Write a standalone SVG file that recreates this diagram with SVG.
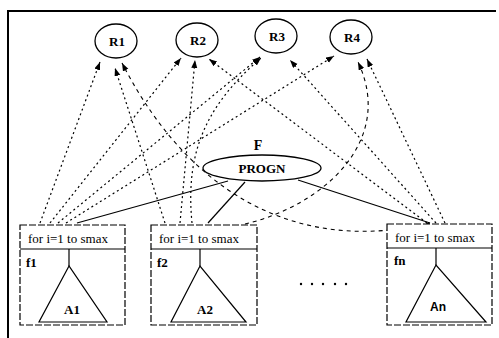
<svg xmlns="http://www.w3.org/2000/svg" width="499" height="338" viewBox="0 0 499 338">
<defs>
<marker id="ah" markerUnits="userSpaceOnUse" markerWidth="9" markerHeight="7" refX="8" refY="3" orient="auto">
<path d="M0,0 L8,3 L0,6 Z" fill="#000"/>
</marker>
<style>
.frame{fill:none;stroke:#000;stroke-width:2}
.res{fill:#fff;stroke:#000;stroke-width:1.3}
.lbl{font-family:"Liberation Serif",serif;font-weight:bold;font-size:13px;text-anchor:middle;fill:#000}
.txt{font-family:"Liberation Serif",serif;font-size:13px;fill:#000}
.box{fill:#fff;stroke:#000;stroke-width:1.2;stroke-dasharray:7,2}
.solid{fill:none;stroke:#000;stroke-width:1.2}
.dot{fill:none;stroke:#000;stroke-width:1.2;stroke-dasharray:2,3;marker-end:url(#ah)}
.dash{fill:none;stroke:#000;stroke-width:1.1;stroke-dasharray:4,4;marker-end:url(#ah)}
</style>
</defs>
<rect width="499" height="338" fill="#fff"/>
<path class="frame" d="M8,338 V11 H496"/>

<g id="connectors">
<!-- from f1 -->
<path class="dot" d="M40,223 L100,62"/>
<path class="dot" d="M50,223 L181,58"/>
<path class="dot" d="M58,223 L260,57"/>
<path class="dot" d="M66,223 L334,56"/>
<!-- from f2 -->
<path class="dot" d="M165,223 L115,68"/>
<path class="dot" d="M180,223 L195,60"/>
<path class="dot" d="M192,223 C186,160 200,110 261,58"/>
<path class="dash" d="M245,224 C325,205 395,140 358,62"/>
<!-- from fn -->
<path class="dash" d="M430,223 C320,250 200,215 122,63"/>
<path class="dot" d="M427,223 L209,59"/>
<path class="dot" d="M436,223 L290,60"/>
<path class="dot" d="M445,223 L367,59"/>
<!-- PROGN to boxes -->
<path class="solid" d="M228,181 L77,223"/>
<path class="solid" d="M245,182 L208,223"/>
<path class="solid" d="M298,180 L430,223"/>
</g>

<g id="R1"><ellipse class="res" cx="116" cy="41" rx="21" ry="17"/><text class="lbl" x="117" y="46">R1</text></g>
<g id="R2"><ellipse class="res" cx="197" cy="40" rx="21" ry="17"/><text class="lbl" x="198" y="45">R2</text></g>
<g id="R3"><ellipse class="res" cx="276" cy="36" rx="21" ry="17"/><text class="lbl" x="277" y="41">R3</text></g>
<g id="R4"><ellipse class="res" cx="351" cy="37" rx="21" ry="17"/><text class="lbl" x="352" y="42">R4</text></g>

<g id="F">
<text class="lbl" x="258" y="150" style="font-size:14px">F</text>
<ellipse class="res" cx="262" cy="168" rx="59" ry="13"/>
<text class="lbl" x="262" y="173">PROGN</text>
</g>

<g id="f1">
<rect class="box" x="20" y="225" width="105" height="100"/>
<line class="solid" x1="20" y1="249" x2="125" y2="249"/>
<text class="txt" x="28" y="243">for i=1 to smax</text>
<text class="txt" x="26" y="267" font-weight="bold">f1</text>
<line class="solid" x1="69" y1="249" x2="69" y2="266"/>
<path class="solid" d="M69,266 L39,322 L107,322 Z"/>
<text class="lbl" x="72" y="314">A1</text>
</g>

<g id="f2">
<rect class="box" x="151" y="225" width="106" height="100"/>
<line class="solid" x1="151" y1="249" x2="257" y2="249"/>
<text class="txt" x="159" y="243">for i=1 to smax</text>
<text class="txt" x="157" y="267" font-weight="bold">f2</text>
<line class="solid" x1="200" y1="249" x2="200" y2="266"/>
<path class="solid" d="M200,266 L171,322 L246,322 Z"/>
<text class="lbl" x="205" y="314">A2</text>
</g>

<g id="fn">
<rect class="box" x="387" y="224" width="105" height="101"/>
<line class="solid" x1="387" y1="248" x2="492" y2="248"/>
<text class="txt" x="395" y="242">for i=1 to smax</text>
<text class="txt" x="394" y="265" font-weight="bold">fn</text>
<line class="solid" x1="436" y1="248" x2="436" y2="265"/>
<path class="solid" d="M436,265 L406,322 L486,322 Z"/>
<text class="lbl" x="438" y="311" style="font-family:'Liberation Sans',sans-serif;font-size:12px">An</text>
</g>

<g id="ellipsis" fill="#000">
<circle cx="301" cy="284" r="1.2"/><circle cx="312" cy="284" r="1.2"/><circle cx="323" cy="284" r="1.2"/><circle cx="335" cy="284" r="1.2"/><circle cx="346" cy="284" r="1.2"/>
</g>
</svg>
